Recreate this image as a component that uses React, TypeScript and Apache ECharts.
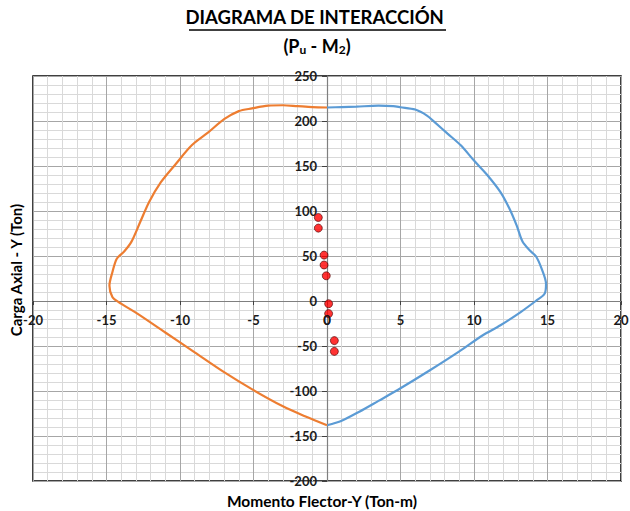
import React, { useEffect, useRef } from "react";
import * as echarts from "echarts";

const FONT = "Lato, 'Open Sans', sans-serif";

// Blue curve (positive moment)
const blueM = [0, 1, 2, 3.5, 4.5, 5.0, 6.0, 6.8, 7.3, 8.2, 9.1, 10.0, 10.9, 11.8, 12.4, 12.9, 13.3, 13.8, 14.2, 14.6, 14.9, 14.8, 14.2, 13.2, 11.8, 10.6, 9, 7, 5, 3.5, 2.2, 1, 0];
const blueP = [215, 215.5, 216, 217, 216.5, 215.3, 212.7, 206, 199, 186, 173, 156, 140, 121, 103, 84, 66, 56, 50, 36, 19, 8, 0, -12, -27, -38, -56, -77, -97, -111, -123, -133, -138];

// Orange curve (negative moment)
const orangeM = [0, -1, -2, -3, -4, -5.1, -6.0, -7.0, -8.1, -9.2, -10.3, -11.3, -12.1, -12.7, -13.3, -13.8, -14.3, -14.6, -14.8, -14.6, -14.2, -12.9, -11.0, -9, -7, -5, -3, -1.5, 0];
const orangeP = [215, 215.5, 216.5, 217.5, 217, 214, 211, 202, 187, 173, 152, 132, 110, 88, 66, 55, 47, 32, 17, 4.5, -1, -14, -35, -57, -79, -99, -117, -128, -138];

// Load points
const ptM = [-0.59, -0.59, -0.2, -0.2, -0.05, 0.11, 0.11, 0.5, 0.5];
const ptP = [92.8, 81, 51, 40, 28, -3, -14, -44, -56];

const xTicks = { min: -20, max: 20, interval: 5 };
const yTicks = { min: -200, max: 250, interval: 50 };

const TITLE = "DIAGRAMA DE INTERACCIÓN";
const X_NAME = "Momento Flector-Y (Ton-m)";
const Y_NAME = "Carga Axial - Y (Ton)";
const ORIGIN_LABEL = "0";

const GRID = { left: 33, right: 9, top: 76, bottom: 30 };
const W = 630;
const H = 511;

export default function App() {
  const ref = useRef<HTMLDivElement>(null);
  useEffect(() => {
    if (!ref.current) return;
    const chart = echarts.init(ref.current, undefined, { renderer: "svg" });
    const zip = (a: number[], b: number[]) => a.map((v, i) => [v, b[i]]);
    const labelStyle = { fontFamily: FONT, fontWeight: "bold" as const, fontSize: 13, color: "#1a1a1a" };
    const plotW = W - GRID.left - GRID.right;
    const plotH = H - GRID.top - GRID.bottom;
    // shift axes so that they sit on the zero lines (Excel style)
    const yOffset = -((0 - xTicks.min) / (xTicks.max - xTicks.min)) * plotW;
    const xOffset = -((0 - yTicks.min) / (yTicks.max - yTicks.min)) * plotH;
    const baseGraphics: any[] = [
      {
        type: "text",
        left: "center",
        top: 7,
        style: { text: TITLE, fontFamily: FONT, fontWeight: "bold", fontSize: 18.5, fill: "#000" },
      },
      {
        type: "line",
        shape: { x1: 189, y1: 30, x2: 446, y2: 30 },
        style: { stroke: "#000", lineWidth: 1.5 },
      },
      {
        type: "text",
        x: 317,
        y: 46,
        style: {
          text: "{a|(P}{b|u}{a| - M}{b|2}{a|)}",
          align: "center",
          verticalAlign: "middle",
          fill: "#000",
          rich: {
            a: { fontFamily: FONT, fontWeight: "bold", fontSize: 18, fill: "#000" },
            b: { fontFamily: FONT, fontWeight: "bold", fontSize: 12, fill: "#000", verticalAlign: "bottom", padding: [6, 0, 0, 0] },
          },
        },
      },
      {
        type: "text",
        x: 322,
        y: 501,
        style: { text: X_NAME, align: "center", verticalAlign: "middle", fontFamily: FONT, fontWeight: "bold", fontSize: 15.5, fill: "#000" },
      },
      {
        type: "text",
        x: 16,
        y: 270,
        rotation: Math.PI / 2,
        style: { text: Y_NAME, align: "center", verticalAlign: "middle", fontFamily: FONT, fontWeight: "bold", fontSize: 15, fill: "#000" },
      },
    ];
    chart.setOption({
      animation: false,
      backgroundColor: "#ffffff",
      grid: { ...GRID, outerBoundsMode: "none", containLabel: false, show: true, borderColor: "#000", borderWidth: 1.5, backgroundColor: "transparent" },
      xAxis: {
        type: "value",
        min: xTicks.min,
        max: xTicks.max,
        interval: xTicks.interval,
        position: "bottom",
        offset: xOffset,
        axisLine: { onZero: false, lineStyle: { color: "#7f7f7f", width: 1.2 } },
        axisTick: { show: true, length: 4, lineStyle: { color: "#404040" } },
        axisLabel: { ...labelStyle, margin: 12, hideOverlap: false },
        splitLine: { show: true, lineStyle: { color: "#a6a6a6", width: 1 } },
        minorTick: { show: false, splitNumber: 5 },
        minorSplitLine: { show: true, lineStyle: { color: "#d9d9d9", width: 1 } },
      },
      yAxis: {
        type: "value",
        min: yTicks.min,
        max: yTicks.max,
        interval: yTicks.interval,
        position: "left",
        offset: yOffset,
        axisLine: { onZero: false, lineStyle: { color: "#7f7f7f", width: 1.2 } },
        axisTick: { show: true, length: 5, lineStyle: { color: "#404040" } },
        axisLabel: { ...labelStyle, margin: 10, hideOverlap: false },
        splitLine: { show: true, lineStyle: { color: "#a6a6a6", width: 1 } },
        minorTick: { show: false, splitNumber: 5 },
        minorSplitLine: { show: true, lineStyle: { color: "#d9d9d9", width: 1 } },
      },
      graphic: baseGraphics,
      series: [
        {
          type: "line",
          data: zip(blueM, blueP),
          smooth: 0.3,
          showSymbol: false,
          lineStyle: { color: "#5b9bd5", width: 2.2 },
          z: 10,
        },
        {
          type: "line",
          data: zip(orangeM, orangeP),
          smooth: 0.3,
          showSymbol: false,
          lineStyle: { color: "#ed7d31", width: 2.2 },
          z: 10,
        },
        {
          type: "scatter",
          data: zip(ptM, ptP),
          symbolSize: 8,
          itemStyle: { color: "#ff0000", borderColor: "#4a0000", borderWidth: 0.8 },
          z: 11,
        },
      ],
    });
    // x-axis "0" label at the origin (hidden by the library where the axes cross)
    const o = chart.convertToPixel({ gridIndex: 0 }, [0, 0]) as number[];
    if (o && isFinite(o[0])) {
      chart.setOption({
        graphic: [
          ...baseGraphics,
          {
            type: "text",
            x: o[0],
            y: o[1] + 12,
            z: 20,
            style: { text: ORIGIN_LABEL, align: "center", verticalAlign: "top", fontFamily: FONT, fontWeight: "bold", fontSize: 13, fill: "#1a1a1a" },
          },
        ],
      });
    }
    return () => chart.dispose();
  }, []);
  return <div ref={ref} style={{ position: "fixed", left: 0, top: 0, width: W, height: H }} />;
}
